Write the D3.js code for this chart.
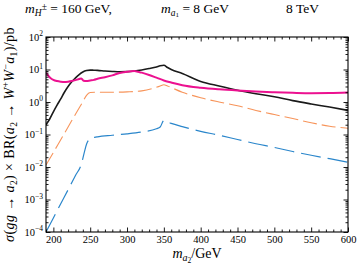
<!DOCTYPE html>
<html><head><meta charset="utf-8">
<script src="https://cdn.jsdelivr.net/npm/d3@7"></script>
<style>body{margin:0;background:#fff} svg{display:block}</style>
</head><body>
<script>
// ---- data ----
const massBlack = [190,195,200,205,210,215,220,225,230,235,240,245,250,255,260,270,280,290,300,310,320,330,340,345,350,355,360,375,400,425,450,475,500,525,550,575,600];
const sigmaBlack = [0.2,0.3,0.5,0.8,1.25,2.0,3.0,4.2,5.5,7.0,8.4,9.3,9.6,9.5,9.4,9.0,8.7,8.5,8.6,9.0,9.7,10.7,12,13,13.5,11.5,10,7.5,4.3,3.1,2.3,1.8,1.45,1.1,0.87,0.7,0.55];

const massMagenta = [190,193,196,200,205,210,215,220,225,230,235,238,241,245,250,255,260,270,280,290,300,305,310,315,320,330,340,350,360,375,400,425,450,475,500,525,550,575,600];
const sigmaMagenta = [8.0,6.5,5.5,4.8,4.4,4.2,4.1,4.2,4.4,4.7,5.1,5.3,4.5,4.4,4.6,4.8,5.2,5.8,6.6,7.8,8.5,8.8,9.0,8.5,8.0,6.8,5.6,4.6,4.0,3.3,2.75,2.45,2.25,2.1,2.0,1.92,1.87,1.88,1.95];

const massOrange = [190,200,210,220,230,240,245,250,260,280,300,320,335,345,350,355,375,400,425,450,475,500,525,550,575,600];
const sigmaOrange = [0.0115,0.028,0.069,0.17,0.42,1.02,1.6,1.95,2.0,2.0,2.05,2.2,2.6,3.1,3.4,3.1,2.0,1.35,1.0,0.77,0.55,0.41,0.31,0.23,0.18,0.155];

const massBlue = [190,200,210,220,230,238,242,245,248,252,256,260,280,300,320,340,345,350,360,375,400,425,450,475,500,525,550,575,600];
const sigmaBlue = [1.0e-4,2.7e-4,7.4e-4,2.0e-3,5.5e-3,0.0123,0.028,0.05,0.068,0.078,0.082,0.085,0.095,0.105,0.12,0.15,0.17,0.27,0.22,0.175,0.125,0.095,0.07,0.052,0.04,0.03,0.023,0.018,0.014];

const xMajorTicks = [200,250,300,350,400,450,500,550,600];
const yExponents = [-4,-3,-2,-1,0,1,2];

// ---- layout ----
const W=358,H=267;
const m={l:46,r:348,t:37,b:232};
const serif = "'Liberation Serif','DejaVu Serif',serif";
const svg=d3.select("body").append("svg").attr("width",W).attr("height",H)
  .style("font-family",serif);
const x=d3.scaleLinear().domain([190,600]).range([m.l,m.r]);
const y=d3.scaleLog().domain([1e-4,1e2]).range([m.b,m.t]);

const xMinor = d3.range(190,601,10).filter(v=>v%50!==0);
const yMinor = [];
for(let k=-4;k<2;k++) for(let j=2;j<10;j++) yMinor.push(j*Math.pow(10,k));
const yMajor = yExponents.map(e=>Math.pow(10,e));

function styleAxis(g){ g.attr("font-family",serif); g.select(".domain").remove(); g.selectAll("line").attr("stroke","#000").attr("stroke-width",0.9); }

svg.append("clipPath").attr("id","clip").append("rect")
  .attr("x",m.l).attr("y",m.t).attr("width",m.r-m.l).attr("height",m.b-m.t);

const plot = svg.append("g").attr("clip-path","url(#clip)");
const line = d3.line().x(d=>x(d[0])).y(d=>y(d[1])).curve(d3.curveMonotoneX);
const series = [
  {mx:massBlack, v:sigmaBlack, c:"#1a1a1a", w:1.6, dash:null},
  {mx:massMagenta, v:sigmaMagenta, c:"#ec1190", w:2.0, dash:null},
  {mx:massOrange, v:sigmaOrange, c:"#f7945a", w:1.1, dash:"14,5"},
  {mx:massBlue, v:sigmaBlue, c:"#2a86cb", w:1.2, dash:"20,7"},
];
[series[2],series[3],series[0],series[1]].forEach(s=>{
  plot.append("path").datum(s.mx.map((d,i)=>[d,s.v[i]]))
    .attr("fill","none").attr("stroke",s.c).attr("stroke-width",s.w)
    .attr("stroke-dasharray",s.dash).attr("stroke-linejoin","round")
    .attr("d",line);
});

// axes
const gB = svg.append("g").attr("transform",`translate(0,${m.b})`)
  .call(d3.axisBottom(x).tickValues(xMajorTicks).tickSize(-4.5).tickPadding(4).tickFormat(d3.format("d")));
styleAxis(gB);
gB.selectAll("text").attr("font-size",10.5).attr("fill","#000");
const gBm = svg.append("g").attr("transform",`translate(0,${m.b})`)
  .call(d3.axisBottom(x).tickValues(xMinor).tickSize(-2.5).tickFormat(""));
styleAxis(gBm);
const gT = svg.append("g").attr("transform",`translate(0,${m.t})`)
  .call(d3.axisTop(x).tickValues(xMajorTicks).tickSize(-4.5).tickFormat(""));
styleAxis(gT);
const gTm = svg.append("g").attr("transform",`translate(0,${m.t})`)
  .call(d3.axisTop(x).tickValues(xMinor).tickSize(-2.5).tickFormat(""));
styleAxis(gTm);

const gL = svg.append("g").attr("transform",`translate(${m.l},0)`)
  .call(d3.axisLeft(y).tickValues(yMajor).tickSize(-4.5).tickFormat(""));
styleAxis(gL);
const gLm = svg.append("g").attr("transform",`translate(${m.l},0)`)
  .call(d3.axisLeft(y).tickValues(yMinor).tickSize(-2.5).tickFormat(""));
styleAxis(gLm);
const gR = svg.append("g").attr("transform",`translate(${m.r},0)`)
  .call(d3.axisRight(y).tickValues(yMajor).tickSize(-4.5).tickFormat(""));
styleAxis(gR);
const gRm = svg.append("g").attr("transform",`translate(${m.r},0)`)
  .call(d3.axisRight(y).tickValues(yMinor).tickSize(-2.5).tickFormat(""));
styleAxis(gRm);

// y tick labels 10^n
yExponents.forEach(e=>{
  const t = svg.append("text").attr("x",m.l-3).attr("y",y(Math.pow(10,e))+3.5)
    .attr("text-anchor","end").attr("font-size",10.5).attr("fill","#000");
  t.append("tspan").text("10");
  t.append("tspan").attr("dy",-4.5).attr("font-size",7.5).text(e<0?"\u2212"+(-e):String(e));
});

// frame
svg.append("rect").attr("x",m.l).attr("y",m.t).attr("width",m.r-m.l).attr("height",m.b-m.t)
  .attr("fill","none").attr("stroke","#000").attr("stroke-width",1.1);

// title
const fsT = 13.5;
const t1 = svg.append("text").attr("y",13).attr("font-size",fsT).attr("fill","#000");
t1.append("tspan").attr("x",25).attr("font-style","italic").text("m");
t1.append("tspan").attr("font-style","italic").attr("font-size",9.5).attr("dy",2.5).text("H");
t1.append("tspan").attr("font-size",9.5).attr("dy",-5.5).text("\u00b1");
t1.append("tspan").attr("dy",3).text(" = 160 GeV,");
const t2 = svg.append("text").attr("y",13).attr("font-size",fsT).attr("fill","#000");
t2.append("tspan").attr("x",161).attr("font-style","italic").text("m");
t2.append("tspan").attr("font-style","italic").attr("font-size",9.5).attr("dy",2.5).text("a");
t2.append("tspan").attr("font-size",7).attr("dy",1.5).text("1");
t2.append("tspan").attr("dy",-4).text(" = 8 GeV");
svg.append("text").attr("x",286).attr("y",13).attr("font-size",fsT).attr("fill","#000").text("8 TeV");

// x label
const xl = svg.append("text").attr("x",(m.l+m.r)/2).attr("y",258).attr("text-anchor","middle")
  .attr("font-size",14).attr("fill","#000");
xl.append("tspan").attr("font-style","italic").text("m");
xl.append("tspan").attr("font-style","italic").attr("font-size",10).attr("dy",3).text("a");
xl.append("tspan").attr("font-size",7.5).attr("dy",1.5).text("2");
xl.append("tspan").attr("dy",-4.5).text("/GeV");

// y label
const yl = svg.append("text").attr("transform",`translate(14,${(m.t+m.b)/2}) rotate(-90)`)
  .attr("text-anchor","middle").attr("font-size",14).attr("fill","#000")
  .attr("letter-spacing",0.4).style("white-space","pre");
const add=(t,o={})=>{const s=yl.append("tspan").text(t); if(o.i) s.attr("font-style","italic"); if(o.fs) s.attr("font-size",o.fs); if(o.dy) s.attr("dy",o.dy); return s;};
add("\u03c3",{i:1}); add("("); add("gg",{i:1}); add(" \u2192 "); add("a",{i:1});
add("2",{fs:9.5,dy:3}); add(") \u00d7 BR(",{dy:-3}); add("a",{i:1});
add("2",{fs:9.5,dy:3}); add(" \u2192 ",{dy:-3}); add("W",{i:1}); add("+",{fs:9.5,dy:-5});
add("W",{i:1,dy:5}); add("\u2212",{fs:9.5,dy:-5}); add("a",{i:1,dy:5}); add("1",{fs:9.5,dy:3});
add(")/pb",{dy:-3});
</script>
</body></html>
